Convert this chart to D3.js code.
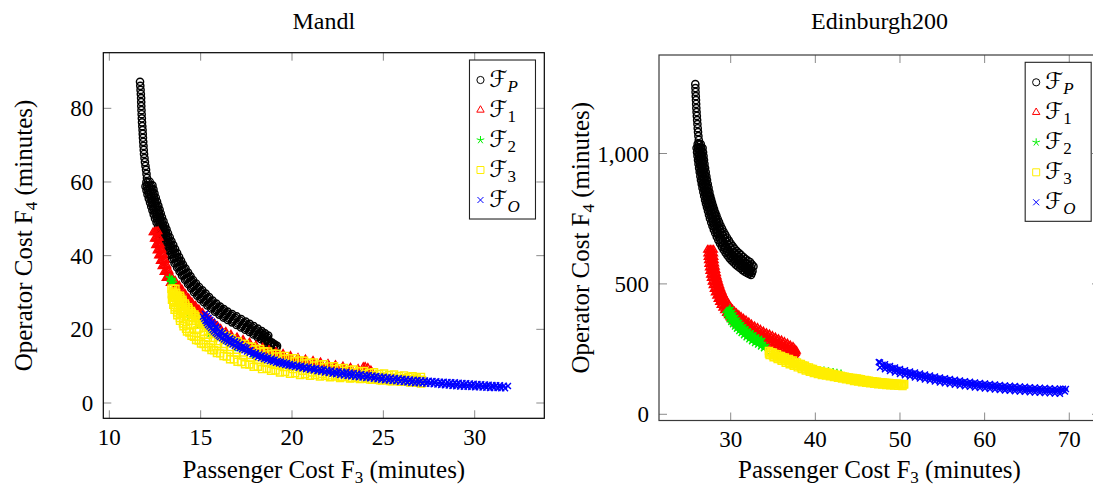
<!DOCTYPE html>
<html>
<head>
<meta charset="utf-8">
<script src="https://cdn.jsdelivr.net/npm/d3@7"></script>
<style>
body { margin: 0; background: #fff; }
text { font-family: "Liberation Serif", "Times New Roman", serif; fill: #000; }
</style>
</head>
<body>
<svg id="chart" width="1093" height="485"></svg>
<script>
// ---- Mandl ----
var mandlXTicks = [10, 15, 20, 25, 30];
var mandlYTicks = [0, 20, 40, 60, 80];

var mandlFP = [
	[11.68,87.2],[11.695,86.1],[11.71,85.0],[11.725,83.9],[11.74,82.8],[11.745,81.7],[11.75,80.6],[11.76,79.5],[11.77,78.4],[11.78,77.3],[11.79,76.2],[11.805,75.15],[11.82,74.1],[11.83,73.05],[11.84,72.0],[11.855,70.9],[11.87,69.8],[11.885,68.7],[11.90,67.6],[11.925,66.5],[11.95,65.4],[11.98,64.35],[12.01,63.3],[12.035,62.2],
	[12.06,61.1],[12.115,60.0],[12.17,58.9],[12.225,57.8],[12.28,56.7],[12.35,55.65],[12.42,54.6],[12.49,53.5],[12.56,52.4],[12.625,51.3],[12.69,50.2],[12.775,49.15],[12.86,48.1],[12.94,47.0],[13.02,45.9],[13.115,44.8],[13.21,43.7],[13.305,42.6],[13.4,41.5],[13.51,40.45],[13.62,39.4],[13.745,38.3],[13.87,37.2],[14.005,36.1],[14.14,35.0],[14.29,33.9],[14.44,32.8],[14.605,31.8],[14.77,30.8],[14.95,29.85],[15.13,28.9],[15.32,28.05],[15.51,27.2],[15.715,26.35],[15.92,25.5],[16.14,24.75],[16.36,24.0],[16.595,23.35],[16.83,22.7],[17.075,22.0],[17.32,21.3],[17.54,20.7],[17.76,20.1],[17.98,19.4],[18.2,18.7],[18.39,18.1],[18.58,17.5],[18.745,16.95],[18.91,16.4],[19.045,15.95],[19.18,15.5],
	[11.98,58.8],[12.035,57.7],[12.09,56.6],[12.16,55.5],[12.23,54.4],[12.295,53.35],[12.36,52.3],[12.43,51.2],[12.5,50.1],[12.585,49.0],[12.67,47.9],[12.75,46.85],[12.83,45.8],[12.925,44.7],[13.02,43.6],[13.115,42.5],[13.21,41.4],[13.32,40.25],[13.43,39.1],[13.57,37.95],[13.71,36.8],[13.845,35.7],[13.98,34.6],[14.145,33.45],[14.31,32.3],[14.475,31.2],[14.64,30.1],[14.815,29.15],[14.99,28.2],[15.18,27.35],[15.37,26.5],[15.58,25.65],[15.79,24.8],[16.02,24.0],[16.25,23.2],[16.485,22.55],[16.72,21.9],[16.965,21.2],[17.21,20.5],[17.44,19.9],[17.67,19.3],[17.89,18.6],[18.11,17.9],[18.305,17.3],[18.5,16.7],[18.675,16.15],[18.85,15.6],[18.985,15.15],[19.12,14.7],
	[12.03,59.95],[12.075,58.85],[12.13,57.75],[12.185,56.65],[12.255,55.58],[12.325,54.5],[12.39,53.43],[12.46,52.35],[12.53,51.25],[12.595,50.15],[12.68,49.08],[12.765,48.0],[12.845,46.93],[12.925,45.85],[13.02,44.75],[13.115,43.65],[13.21,42.55],[13.305,41.45],[13.415,40.35],[13.525,39.25],[13.66,38.13],[13.79,37.0],[13.925,35.9],[14.06,34.8],[14.22,33.68],[14.375,32.55],[14.54,31.5],[14.705,30.45],[14.88,29.5],[15.06,28.55],[15.25,27.7],[15.44,26.85],[15.65,26.0],[15.855,25.15],[16.08,24.38],[16.305,23.6],[16.54,22.95],[16.775,22.3],[17.02,21.6],[17.265,20.9],[17.49,20.3],[17.715,19.7],[17.935,19.0],[18.155,18.3],[18.35,17.7],[18.54,17.1],[18.71,16.55],[18.88,16.0],[19.015,15.55],[19.15,15.1],
	[12.36,59.1],[12.415,58.0],[12.47,56.9],[12.54,55.8],[12.61,54.7],[12.68,53.6],[12.75,52.5],[12.815,51.45],[12.88,50.4],[12.965,49.3],[13.05,48.2],[13.13,47.15],[13.21,46.1],[13.305,45.0],[13.4,43.9],[13.5,42.85],[13.6,41.8],[13.71,40.7],[13.82,39.6],[13.925,38.6],[14.03,37.6],[14.17,36.5],[14.31,35.4],[14.445,34.4],[14.58,33.4],[14.745,32.45],[14.91,31.5],[15.09,30.6],[15.27,29.7],[15.46,28.75],[15.65,27.8],[15.855,27.0],[16.06,26.2],[16.265,25.5],[16.47,24.8],[16.72,24.15],[16.97,23.5],[17.215,22.8],[17.46,22.1],[17.68,21.5],[17.9,20.9],[18.12,20.2],[18.34,19.5],[18.52,18.9],[18.7,18.3],
	[12.21,60.08],[12.265,59.0],[12.32,57.9],[12.375,56.8],[12.445,55.73],[12.515,54.65],[12.585,53.55],[12.655,52.45],[12.72,51.38],[12.785,50.3],[12.87,49.23],[12.955,48.15],[13.035,47.08],[13.115,46.0],[13.21,44.9],[13.305,43.8],[13.4,42.73],[13.5,41.65],[13.61,40.58],[13.72,39.5],[13.835,38.45],[13.95,37.4],[14.09,36.3],[14.225,35.2],[14.37,34.15],[14.51,33.1],[14.675,32.13],[14.84,31.15],[15.02,30.23],[15.2,29.3],[15.39,28.4],[15.58,27.5],[15.785,26.68],[15.99,25.85],[16.2,25.13],[16.415,24.4],[16.66,23.75],[16.9,23.1],[17.145,22.4],[17.39,21.7],[17.61,21.1],[17.83,20.5],[18.05,19.8],[18.27,19.1],[18.455,18.5],[18.64,17.9]
];

var mandlF1 = [
	[12.53,46.4],[12.6,44.65],[12.67,42.9],[12.75,41.55],[12.83,40.2],[12.925,38.7],[13.02,37.2],[13.13,35.7],[13.24,34.2],[13.47,32.85],[13.7,31.5],[13.875,30.25],[14.05,29.0],[14.235,27.95],[14.42,26.9],[14.61,25.95],[14.8,25.0],[15.0,24.05],[15.2,23.1],[15.425,22.15],[15.65,21.2],[15.825,20.35],[16.0,19.5],[16.305,18.7],[16.61,17.9],[16.935,17.15],[17.26,16.4],[17.615,15.65],[17.97,14.9],[18.33,14.3],[18.69,13.7],[19.07,13.15],[19.45,12.6],[19.86,12.05],[20.27,11.5],[20.68,11.1],[21.09,10.7],[21.5,10.3],[21.91,9.9],[22.325,9.55],[22.74,9.2],[23.15,8.9],[23.56,8.6],[23.97,8.35],[24.38,8.1],
	[12.67,46.6],[12.735,44.8],[12.8,43.0],[12.885,41.65],[12.97,40.3],[13.065,38.8],[13.16,37.3],[13.27,35.9],[13.38,34.5],[13.605,33.15],[13.83,31.8],[13.995,30.65],[14.16,29.5],[14.34,28.4],[14.52,27.3],[14.71,26.35],[14.9,25.4],[15.1,24.45],[15.3,23.5],[15.525,22.55],[15.75,21.6],[15.92,20.85],[16.09,20.1],[16.375,19.3],[16.66,18.5],[16.99,17.8],[17.32,17.1],[17.675,16.35],[18.03,15.6],[18.385,15.0],[18.74,14.4],[19.125,13.85],[19.51,13.3],[19.92,12.75],[20.33,12.2],[20.74,11.8],[21.15,11.4],[21.56,11.0],[21.97,10.6],[22.38,10.25],[22.79,9.9],[23.205,9.55],[23.62,9.2],[23.97,9.0],[24.32,8.8],
	[12.6,46.5],[12.67,44.73],[12.735,42.95],[12.82,41.6],[12.9,40.25],[12.995,38.75],[13.09,37.25],[13.2,35.8],[13.31,34.35],[13.54,33.0],[13.765,31.65],[13.935,30.45],[14.105,29.25],[14.29,28.18],[14.47,27.1],[14.66,26.15],[14.85,25.2],[15.05,24.25],[15.25,23.3],[15.475,22.35],[15.7,21.4],[15.87,20.6],[16.045,19.8],[16.34,19.0],[16.635,18.2],[16.96,17.48],[17.29,16.75],[17.645,16.0],[18.0,15.25],[18.36,14.65],[18.715,14.05],[19.1,13.5],[19.48,12.95],[19.89,12.4],[20.3,11.85],[20.71,11.45],[21.12,11.05],[21.53,10.65],[21.94,10.25],[22.35,9.9],[22.765,9.55],[23.18,9.23],[23.59,8.9],[23.97,8.68],[24.35,8.45],
	[12.39,46.3],[12.46,44.55],[12.53,42.8],[12.61,41.4],[12.69,40.0],[12.785,38.55],[12.88,37.1],[12.99,35.5],[13.1,33.9],[13.33,32.55],[13.56,31.2],[13.755,29.9],[13.95,28.6],[14.125,27.55],[14.3,26.5],[14.495,25.55],[14.69,24.6],[14.895,23.65],[15.1,22.7],[15.325,21.75],[15.55,20.8],[15.735,19.9],[15.92,19.0],[16.235,18.2],[16.55,17.4],[16.88,16.55],[17.21,15.7],[17.565,15.0],[17.92,14.3],[18.275,13.65],[18.63,13.0],[19.015,12.45],[19.4,11.9],[19.81,11.4],[20.22,10.9],[20.63,10.45],[21.04,10.0],[21.45,9.6],[21.86,9.2],[22.27,8.9],[22.68,8.6],[23.09,8.25],[23.5,7.9],[23.91,7.7],[24.32,7.5],
	[12.46,46.35],[12.53,44.6],[12.6,42.85],[12.68,41.48],[12.76,40.1],[12.855,38.63],[12.95,37.15],[13.06,35.6],[13.17,34.05],[13.4,32.7],[13.63,31.35],[13.815,30.08],[14.0,28.8],[14.18,27.75],[14.36,26.7],[14.55,25.75],[14.745,24.8],[14.95,23.85],[15.15,22.9],[15.375,21.95],[15.6,21.0],[15.78,20.13],[15.96,19.25],[16.27,18.45],[16.58,17.65],[16.91,16.85],[17.235,16.05],[17.59,15.33],[17.945,14.6],[18.3,13.98],[18.66,13.35],[19.04,12.8],[19.425,12.25],[19.835,11.73],[20.245,11.2],[20.655,10.78],[21.065,10.35],[21.475,9.95],[21.885,9.55],[22.3,9.23],[22.71,8.9],[23.12,8.58],[23.53,8.25],[23.94,8.03],[24.35,7.8],
	[23.9,9.7],[24.0,9.8],[24.15,9.5]
];

var mandlF2 = [
	[13.3,34.0],[13.42,33.6],[13.35,32.8],[13.5,32.6],[13.45,33.2],[13.7,29.5],[14.0,26.5],[14.4,23.5],[14.9,21.0],[15.5,18.8],[16.2,16.8],[17.0,15.0],[17.9,13.3],[18.9,11.8],[20.0,10.5],[21.0,9.5],[22.0,8.7],[23.0,8.0],[24.0,7.5],[25.0,7.1],[25.7,6.9],[26.2,6.8]
];

var mandlF3 = [
	[13.40,31.0],[13.415,29.5],[13.43,28.0],[13.5,26.65],[13.57,25.3],[13.72,23.8],[13.87,22.3],[14.06,20.85],[14.25,19.4],[14.5,18.25],[14.75,17.1],[15.02,16.15],[15.29,15.2],[15.59,14.4],[15.89,13.6],[16.25,12.75],[16.61,11.9],[17.02,11.2],[17.43,10.5],[17.9,9.85],[18.36,9.2],[18.85,8.75],[19.34,8.3],[19.89,7.95],[20.44,7.6],[20.985,7.4],[21.53,7.2],[22.08,7.0],[22.63,6.8],[23.175,6.65],[23.72,6.5],[24.27,6.35],[24.82,6.2],[25.365,6.0],[25.91,5.8],[26.485,5.55],[27.06,5.3],
	[13.47,30.25],[13.48,28.75],[13.53,27.33],[13.6,25.98],[13.71,24.55],[13.86,23.05],[14.03,21.58],[14.2,20.13],[14.38,19.13],[14.63,17.98],[14.89,16.93],[15.16,15.98],[15.44,15.1],[15.74,14.3],[16.07,13.48],[16.43,12.63],[16.82,11.85],[17.23,11.15],[17.67,10.48],[18.13,9.83],[18.61,9.28],[19.1,8.83],[19.62,8.43],[20.17,8.08],[20.71,7.8],[21.26,7.6],[21.81,7.4],[22.36,7.2],[22.9,7.03],[23.45,6.88],[24.0,6.73],[24.55,6.58],[25.09,6.4],[25.64,6.2],[26.2,5.98],[26.77,5.73],
	[13.62,31.0],[13.665,29.9],[13.71,28.8],[13.79,27.7],[13.87,26.6],[14.005,25.5],[14.14,24.4],[14.32,23.35],[14.5,22.3],[14.705,21.25],[14.91,20.2],[15.155,19.35],[15.4,18.5],[15.675,17.65],[15.95,16.8],[16.28,16.0],[16.61,15.2],[16.965,14.45],[17.32,13.7],[17.73,13.05],[18.14,12.4],[18.605,11.75],[19.07,11.1],[19.56,10.55],[20.05,10.0],[20.57,9.55],[21.09,9.1],[21.64,8.7],[22.19,8.3],[22.735,7.95],[23.28,7.6],[23.83,7.35],[24.38,7.1],[24.925,6.9],[25.47,6.7],[25.965,6.55],[26.46,6.4],[26.79,6.3],[27.12,6.2],
	[13.5,31.0],[13.545,29.9],[13.59,28.8],[13.67,27.7],[13.75,26.6],[13.885,25.5],[14.02,24.4],[14.2,23.35],[14.38,22.3],[14.585,21.25],[14.82,19.8],[15.155,18.55],[15.4,17.7],[15.675,16.85],[15.95,16.0],[16.28,15.2],[16.61,14.4],[16.965,13.65],[17.32,12.9],[17.73,12.25],[18.14,11.6],[18.605,10.95],[19.07,10.3],[19.56,9.75],[20.05,9.2],[20.57,8.75],[21.09,8.3],[21.64,7.9],[22.19,7.5],[22.735,7.15],[23.28,6.8],[23.83,6.55],[24.38,6.3],[24.925,6.1],[25.47,5.9],[25.965,5.75],[26.46,5.6],[26.79,5.5],[27.12,5.4],
	[13.87,29.1],[14.005,28.05],[14.14,27.0],[14.305,26.0],[14.47,25.0],[14.66,24.05],[14.85,23.1],[15.07,22.2],[15.29,21.3],[15.54,20.5],[15.79,19.7],[16.09,18.95],[16.39,18.2],[16.715,17.45],[17.04,16.7],[17.425,16.0],[17.81,15.3],[18.25,14.65],[18.69,14.0],[19.155,13.4],[19.62,12.8],[20.14,12.15],[20.66,11.5],[21.205,11.0],[21.75,10.5],[22.3,10.0],[22.85,9.5],[23.395,9.1],[23.94,8.7],[24.49,8.35],[25.04,8.0],[25.585,7.75],[26.13,7.5],[26.6,7.3],[27.06,7.1],
	[13.89,28.58],[14.02,27.53],[14.17,26.5],[14.34,25.5],[14.52,24.53],[14.71,23.58],[14.91,22.65],[15.13,21.75],[15.37,20.9],[15.67,19.8],[15.94,19.03],[16.24,18.28],[16.55,17.53],[16.88,16.78],[17.23,16.05],[17.62,15.35],[18.03,14.68],[18.47,14.03],[18.92,13.4],[19.39,12.8],[19.88,12.18],[20.4,11.53],[20.93,10.95],[21.48,10.45],[22.03,9.95],[22.58,9.45],[23.12,9.0],[23.67,8.6],[24.22,8.23],[24.77,7.88],[25.31,7.58],[25.86,7.33],[26.37,7.1],[26.83,6.9],
	[13.75,29.1],[13.885,28.05],[14.02,27.0],[14.185,26.0],[14.35,25.0],[14.54,24.05],[14.73,23.1],[14.95,22.2],[15.17,21.3],[15.42,20.5],[15.79,18.9],[16.09,18.15],[16.39,17.4],[16.715,16.65],[17.04,15.9],[17.425,15.2],[17.81,14.5],[18.25,13.85],[18.69,13.2],[19.155,12.6],[19.62,12.0],[20.14,11.35],[20.66,10.7],[21.205,10.2],[21.75,9.7],[22.3,9.2],[22.85,8.7],[23.395,8.3],[23.94,7.9],[24.49,7.55],[25.04,7.2],[25.585,6.95],[26.13,6.7],[26.6,6.5],[27.06,6.3]
];

var mandlFO = [
	[15.24,24.2],[15.43,23.1],[15.62,22.0],[15.84,20.75],[16.06,19.5],[16.335,18.55],[16.61,17.6],[16.88,16.8],[17.15,16.0],[17.51,14.9],[17.87,13.8],[18.195,13.2],[18.52,12.6],[18.875,12.05],[19.23,11.5],[19.56,11.05],[19.89,10.6],[20.3,10.25],[20.71,9.9],[21.12,9.6],[21.53,9.3],[21.94,9.0],[22.35,8.7],[22.76,8.5],[23.17,8.3],[23.585,8.0],[24.0,7.7],[24.41,7.45],[24.82,7.2],[25.23,7.0],[25.64,6.8],[26.05,6.6],[26.46,6.4],[26.87,6.25],[27.28,6.1],[27.69,5.95],[28.1,5.8],[28.51,5.7],[28.92,5.6],[29.33,5.45],[29.74,5.3],[30.15,5.15],[30.56,5.0],[30.97,4.9],[31.38,4.8],[31.82,4.6],
	[15.335,23.65],[15.525,22.55],[15.73,21.38],[15.95,20.13],[16.2,19.03],[16.47,18.08],[16.745,17.2],[17.015,16.4],[17.33,15.45],[17.69,14.35],[18.03,13.5],[18.36,12.9],[18.7,12.33],[19.05,11.78],[19.395,11.28],[19.725,10.83],[20.095,10.43],[20.505,10.08],[20.915,9.75],[21.325,9.45],[21.735,9.15],[22.145,8.85],[22.555,8.6],[22.965,8.4],[23.38,8.15],[23.79,7.85],[24.205,7.58],[24.615,7.33],[25.025,7.1],[25.435,6.9],[25.845,6.7],[26.255,6.5],[26.665,6.33],[27.075,6.18],[27.485,6.03],[27.895,5.88],[28.305,5.75],[28.715,5.65],[29.125,5.53],[29.535,5.38],[29.945,5.23],[30.355,5.08],[30.765,4.95],[31.175,4.85],[31.6,4.7],
	[15.13,23.4],[15.265,22.3],[15.4,21.2],[15.565,20.3],[15.73,19.4],[15.895,18.65],[16.06,17.9],[16.28,17.25],[16.5,16.6],[16.745,15.9],[16.99,15.2],[17.265,14.6],[17.54,14.0],[17.84,13.25],[18.14,12.5],[18.47,11.95],[18.8,11.4],[19.125,10.95],[19.45,10.5],[19.805,10.15],[20.16,9.8],[20.57,9.4],[20.98,9.0],[21.39,8.65],[21.8,8.3],[22.215,7.95],[22.63,7.6],[23.04,7.35],[23.45,7.1],[23.86,6.9],[24.27,6.7],[24.68,6.45],[25.09,6.2],[25.5,6.0],[25.91,5.8],[26.32,5.6],[26.73,5.4],[27.14,5.3],[27.55,5.2],[27.96,5.0],[28.37,4.8],[28.785,4.65],[29.2,4.5],[29.61,4.4],[30.02,4.3],[30.43,4.2],[30.84,4.1],[31.25,4.05],[31.66,4.0],
	[15.2,22.85],[15.335,21.75],[15.485,20.75],[15.65,19.85],[15.815,19.03],[15.98,18.28],[16.17,17.58],[16.39,16.93],[16.62,16.25],[16.87,15.55],[17.13,14.9],[17.4,14.3],[17.69,13.63],[17.99,12.88],[18.305,12.23],[18.635,11.68],[18.96,11.18],[19.29,10.73],[19.63,10.33],[19.98,9.98],[20.365,9.6],[20.775,9.2],[21.185,8.83],[21.595,8.48],[22.01,8.13],[22.42,7.78],[22.835,7.48],[23.245,7.23],[23.655,7.0],[24.065,6.8],[24.475,6.58],[24.885,6.33],[25.295,6.1],[25.705,5.9],[26.115,5.7],[26.525,5.5],[26.935,5.35],[27.345,5.25],[27.755,5.1],[28.165,4.9],[28.58,4.73],[28.99,4.58],[29.405,4.45],[29.815,4.35],[30.225,4.25],[30.635,4.15],[31.045,4.08],[31.455,4.03],
	[15.35,22.4],[15.595,21.4],[15.84,20.4],[16.085,19.3],[16.33,18.2],[16.605,17.45],[16.88,16.7],[17.155,15.95],[17.43,15.2],[17.715,14.35],[18.0,13.5],[18.3,12.85],[18.6,12.2],[18.95,11.65],[19.3,11.1],[19.65,10.7],[20.0,10.3],[20.4,9.9],[20.8,9.5],[21.2,9.2],[21.6,8.9],[22.0,8.6],[22.4,8.3],[22.8,8.05],[23.2,7.8],[23.65,7.55],[24.1,7.3],[24.5,7.05],[24.9,6.8],[25.35,6.6],[25.8,6.4],[26.2,6.2],[26.6,6.0],[27.0,5.85],[27.4,5.7],[27.8,5.55],[28.2,5.4],[28.6,5.25],[29.0,5.1],[29.4,4.95],[29.8,4.8],[30.2,4.7],[30.6,4.6],[31.0,4.5],[31.4,4.4]
];

// ---- Edinburgh200 ----
var edinXTicks = [30, 40, 50, 60, 70];
var edinYTicks = [0, 500, 1000];

var edinFP = [
	[25.82,1266],[25.835,1251],[25.85,1236],[25.875,1220],[25.9,1205],[25.92,1190],[25.94,1174],[25.97,1159],[26.0,1144],[26.035,1128],[26.07,1113],[26.105,1097],[26.14,1082],[26.185,1067],
	[26.23,1052],[26.28,1036],[26.33,1021],[26.38,1005],[26.43,990],[26.49,975],[26.55,960],[26.62,944],[26.69,929],[26.77,913],[26.85,898],[26.935,883],[27.02,868],[27.12,852],[27.22,837],[27.33,823],[27.44,810],[27.555,796],[27.67,783],[27.8,770],[27.93,757],[28.075,743],[28.22,730],[28.38,716],[28.54,703],[28.715,690],[28.89,678],[29.085,666],[29.28,655],[29.49,644],[29.7,634],[29.925,624],[30.15,615],[30.39,606],[30.63,597],[30.875,589],[31.12,582],[31.38,575],[31.64,569],[31.9,563],[32.16,557],[32.37,553],[32.58,549],
	[25.97,1021],[26.025,1005],[26.08,990],[26.14,975],[26.2,960],[26.27,944],[26.34,929],[26.415,913],[26.49,898],[26.58,883],[26.67,868],[26.77,852],[26.87,837],[26.975,822],[27.08,808],[27.2,794],[27.32,780],[27.435,765],[27.55,751],[27.7,736],[27.85,722],[28.01,708],[28.17,695],[28.355,681],[28.54,668],[28.745,655],[28.95,643],[29.17,631],[29.39,620],[29.625,609],[29.86,599],[30.105,590],[30.35,582],[30.605,574],[30.86,567],[31.135,560],[31.41,553],[31.67,547],[31.93,542],[32.165,538],[32.4,534],
	[26.1,1036],[26.15,1021],[26.2,1005],[26.255,990],[26.315,975],[26.375,960],[26.445,944],[26.515,929],[26.59,913],[26.67,898],[26.76,883],[26.845,868],[26.945,852],[27.045,837],[27.15,822],[27.26,809],[27.38,795],[27.495,781],[27.62,767],[27.74,754],[27.89,740],[28.035,726],[28.195,712],[28.355,699],[28.535,686],[28.715,673],[28.915,660],[29.115,649],[29.33,638],[29.545,627],[29.775,617],[30.005,607],[30.25,598],[30.49,590],[30.74,582],[30.99,575],[31.26,568],[31.525,561],[31.785,555],[32.045,550],[32.27,546],[32.49,542],
	[26.68,1021],[26.735,1005],[26.79,990],[26.845,975],[26.9,960],[26.975,944],[27.05,929],[27.125,913],[27.2,898],[27.29,883],[27.38,868],[27.48,852],[27.58,837],[27.685,824],[27.79,812],[27.91,799],[28.03,787],[28.17,774],[28.31,762],[28.465,749],[28.62,737],[28.795,724],[28.97,712],[29.16,700],[29.35,689],[29.565,677],[29.78,666],[30.0,655],[30.22,645],[30.465,635],[30.71,626],[30.965,618],[31.22,611],[31.485,603],[31.75,595],[32.015,589],[32.28,584],[32.485,575],[32.69,567],
	[26.46,1036],[26.505,1021],[26.56,1005],[26.61,990],[26.67,975],[26.725,960],[26.8,944],[26.87,929],[26.95,913],[27.025,898],[27.11,883],[27.2,868],[27.3,852],[27.4,837],[27.51,824],[27.615,811],[27.73,798],[27.85,785],[27.985,772],[28.12,760],[28.27,746],[28.42,734],[28.59,720],[28.755,708],[28.94,695],[29.12,684],[29.325,672],[29.53,661],[29.745,650],[29.96,640],[30.195,630],[30.43,621],[30.68,612],[30.925,604],[31.18,596],[31.435,589],[31.7,582],[31.96,577],[32.19,569],[32.425,562]
];

var edinF1 = [
	[27.61,630],[27.64,616],[27.67,603],[27.72,590],[27.77,576],[27.83,562],[27.89,549],[27.97,536],[28.05,522],[28.155,509],[28.26,496],[28.38,483],[28.5,471],[28.65,459],[28.8,448],[28.965,437],[29.13,427],[29.315,417],[29.5,407],[29.71,398],[29.92,390],[30.155,382],[30.39,375],[30.655,367],[30.92,360],[31.215,352],[31.51,344],[31.835,337],[32.16,331],[32.515,324],[32.87,317],[33.225,311],[33.58,306],[33.935,300],[34.29,294],[34.645,288],[35.0,283],[35.355,277],[35.71,271],[36.06,265],[36.41,260],[36.765,254],[37.12,248],[37.385,241],[37.65,235],
	[27.26,630],[27.29,616],[27.32,603],[27.365,590],[27.41,576],[27.47,562],[27.53,549],[27.615,535],[27.7,522],[27.805,508],[27.91,494],[28.04,480],[28.17,467],[28.335,454],[28.5,442],[28.675,430],[28.85,419],[29.06,408],[29.27,398],[29.495,388],[29.72,379],[29.965,370],[30.21,362],[30.475,354],[30.74,346],[31.035,338],[31.33,331],[31.655,324],[31.98,317],[32.335,310],[32.69,304],[33.045,298],[33.4,293],[33.755,287],[34.11,281],[34.465,275],[34.82,270],[35.175,264],[35.53,258],[35.885,252],[36.24,247],[36.595,241],[36.95,235],[37.215,229],[37.48,224],
	[27.435,630],[27.465,616],[27.495,603],[27.54,590],[27.59,576],[27.65,562],[27.71,549],[27.79,536],[27.875,522],[27.98,509],[28.085,495],[28.21,482],[28.335,469],[28.49,457],[28.65,445],[28.82,434],[28.99,423],[29.19,413],[29.385,403],[29.6,393],[29.82,385],[30.06,376],[30.3,369],[30.565,361],[30.83,353],[31.125,345],[31.42,338],[31.745,331],[32.07,324],[32.425,317],[32.78,311],[33.135,305],[33.49,300],[33.845,294],[34.2,288],[34.555,282],[34.91,277],[35.265,271],[35.62,265],[35.97,259],[36.325,254],[36.68,248],[37.035,242],[37.3,235],[37.565,230],
	[27.97,630],[28.0,616],[28.03,603],[28.075,590],[28.12,578],[28.19,565],[28.26,553],[28.34,540],[28.42,528],[28.52,516],[28.62,505],[28.735,493],[28.85,482],[28.99,470],[29.13,459],[29.29,448],[29.45,438],[29.625,428],[29.8,419],[30.005,410],[30.21,402],[30.45,394],[30.69,387],[30.955,380],[31.22,373],[31.515,366],[31.81,360],[32.135,352],[32.46,344],[32.815,337],[33.17,331],[33.52,324],[33.87,317],[34.225,311],[34.58,306],[34.935,300],[35.29,294],[35.645,288],[36.0,283],[36.355,277],[36.71,271],[37.035,264],[37.36,258],[37.565,250],[37.77,243],
	[27.79,630],[27.82,616],[27.85,603],[27.9,590],[27.945,577],[28.01,564],[28.075,551],[28.155,538],[28.235,525],[28.34,513],[28.44,501],[28.56,488],[28.675,477],[28.82,465],[28.965,454],[29.13,443],[29.29,433],[29.47,423],[29.65,413],[29.86,404],[30.065,396],[30.3,388],[30.54,381],[30.805,374],[31.07,367],[31.365,359],[31.66,352],[31.985,345],[32.31,338],[32.665,331],[33.02,324],[33.37,318],[33.725,312],[34.08,306],[34.435,300],[34.79,294],[35.145,289],[35.5,283],[35.855,277],[36.21,271],[36.56,266],[36.9,259],[37.24,253],[37.475,246],[37.71,239]
];

var edinF2 = [
	[29.68,396],[29.86,385],[30.04,375],[30.245,365],[30.45,356],[30.685,347],[30.92,339],[31.185,330],[31.45,321],[31.745,313],[32.04,306],[32.365,298],[32.69,291],[33.045,284],[33.4,277],[33.755,270],[34.11,264],
	[29.44,387],[29.62,376],[29.8,365],[30.005,355],[30.21,346],[30.445,337],[30.68,329],[30.95,320],[31.22,312],[31.515,304],[31.81,296],[32.135,288],[32.46,281],[32.815,274],[33.17,268],[33.52,261],[33.87,254],
	[29.56,392],[29.74,381],[29.92,370],[30.125,360],[30.33,351],[30.565,342],[30.8,334],[31.07,325],[31.335,317],[31.63,309],[31.925,301],[32.25,293],[32.575,286],[32.93,279],[33.285,273],[33.64,266],[33.99,259],
	[29.92,406],[30.095,395],[30.27,385],[30.48,375],[30.69,365],[30.925,356],[31.16,348],[31.425,339],[31.69,331],[31.985,323],[32.28,316],[32.605,308],[32.93,300],[33.285,293],[33.64,287],
	[29.8,401],[29.98,390],[30.155,380],[30.36,370],[30.57,361],[30.805,352],[31.04,344],[31.305,335],[31.57,326],[31.865,318],[32.16,311],[32.485,303],[32.81,296],[33.165,289],[33.52,282],
	[34.88,229],[35.82,218],[36.77,208],[37.83,193],[38.89,179],[39.96,172],[40.5,170],[41.02,168],[41.55,165],[42.09,162],[42.55,159],[43.03,156]
];

var edinF3 = [
	[34.52,243],[34.995,236],[35.47,230],[35.94,224],[36.41,218],[36.885,212],[37.36,206],[37.83,199],[38.3,193],[38.775,186],[39.25,180],[39.725,174],[40.2,169],[40.67,165],[41.14,162],[41.615,158],[42.09,155],[42.56,151],[43.03,147],[43.505,144],[43.98,141],[44.45,139],[44.92,137],[45.395,134],[45.87,132],[46.34,129],[46.81,127],[47.285,125],[47.76,123],[48.235,121],[48.71,120],[49.18,118],[49.65,117],[50.065,116],[50.48,116],
	[34.52,233],[34.995,225],[35.47,218],[35.94,211],[36.41,204],[36.885,198],[37.36,192],[37.83,186],[38.3,180],[38.775,174],[39.25,169],[39.725,164],[40.2,160],[40.67,157],[41.14,155],[41.615,152],[42.09,149],[42.56,146],[43.03,143],[43.505,140],[43.98,137],[44.45,134],[44.92,132],[45.395,129],[45.87,127],[46.34,125],[46.81,123],[47.285,121],[47.76,120],[48.235,118],[48.71,117],[49.18,116],[49.65,115],[50.065,114],[50.48,114],
	[34.76,238],[35.23,231],[35.7,224],[36.18,218],[36.65,211],[37.12,205],[37.6,199],[38.07,193],[38.54,187],[39.01,180],[39.49,175],[39.96,169],[40.44,165],[40.9,161],[41.38,159],[41.85,155],[42.33,152],[42.8,149],[43.27,145],[43.74,142],[44.21,139],[44.69,137],[45.16,135],[45.63,131],[46.1,130],[46.58,127],[47.05,125],[47.52,123],[47.99,122],[48.47,120],[48.94,119],[49.41,117],[49.86,116],[50.27,115],
	[34.6,227],[35.07,219],[35.55,212],[36.02,205],[36.5,198],[36.97,192],[37.45,186],[37.92,180],[38.4,174],[38.87,168],[39.35,163],[39.82,158],[40.3,154],[40.77,151],[41.25,149],[41.72,146],[42.2,143],[42.67,140],[43.15,137],[43.62,134],[44.1,131],[44.57,128],[45.05,126],[45.52,123],[46.0,121],[46.47,119],[46.95,117],[47.42,115],[47.9,114],[48.37,112],[48.85,111],[49.32,110],[49.8,109],[50.3,108]
];

var edinFO = [
	[47.5,200],[47.64,198.6],[48.23,191.9],[48.82,185.2],[49.41,179.5],[50.0,173.7],[50.59,168.9],[51.18,164.1],[51.77,160.3],[52.36,156.4],[52.95,152.6],[53.54,148.8],[54.13,145.0],[54.72,141.1],[55.31,138.3],[55.9,135.4],[56.49,132.5],[57.08,129.6],[57.675,127.1],[58.27,124.6],[58.86,122.3],[59.45,120.0],[60.04,118.1],[60.63,116.2],[61.22,114.3],[61.81,112.3],[62.4,110.8],[62.99,109.3],[63.58,108.0],[64.17,106.6],[64.76,105.3],[65.35,103.9],[65.94,102.8],[66.53,101.6],[67.12,100.7],[67.71,99.7],[68.3,99.0],[68.9,98.2],[69.25,97.6],[69.6,97.0],
	[47.64,179.4],[48.23,172.7],[48.82,166.0],[49.41,160.3],[50.0,154.5],[50.59,149.7],[51.18,144.9],[51.77,141.1],[52.36,137.3],[52.95,133.5],[53.54,129.6],[54.13,125.8],[54.72,121.9],[55.31,119.1],[55.9,116.2],[56.49,113.3],[57.08,110.4],[57.675,107.9],[58.27,105.4],[58.86,103.1],[59.45,100.8],[60.04,98.9],[60.63,97.0],[61.22,95.1],[61.81,93.2],[62.4,91.7],[62.99,90.1],[63.58,88.8],[64.17,87.4],[64.76,86.1],[65.35,84.7],[65.94,83.6],[66.53,82.4],[67.12,81.5],[67.71,80.5],[68.3,79.8],[68.9,79.0],
	[48.23,182.1],[48.82,176.0],[49.41,169.9],[50.0,164.5],[50.59,159.1],[51.18,154.9],[51.77,150.7],[52.36,146.9],[52.95,143.0],[53.54,139.2],[54.13,135.4],[54.72,132.0],[55.32,128.5],[55.91,125.6],[56.5,122.7],[57.09,120.0],[57.68,117.3],[58.27,115.0],[58.86,112.7],[59.45,110.6],[60.04,108.5],[60.63,106.6],[61.22,104.7],[61.81,103.0],[62.4,101.2],[62.99,99.7],[63.58,98.2],[64.17,96.9],[64.76,95.5],[65.36,94.4],[65.95,93.2],[66.54,92.1],[67.13,90.9],[67.72,90.1],[68.31,89.3],[68.9,88.6],[69.49,87.8],
	[47.94,190],[48.53,183],[49.12,177],[49.71,171],[50.3,165],[50.89,160],[51.48,156],[52.07,152],[52.66,148],[53.25,144],[53.84,141],[54.43,137],[55.02,134],[55.61,131],[56.2,128],[56.79,125],[57.38,122.5],[57.97,120],[58.56,118],[59.16,115.5],[59.75,113.5],[60.34,111.5],[60.93,109.5],[61.52,107.5],[62.11,105.5],[62.7,104],[63.29,102.5],[63.88,101],[64.47,99.7],[65.06,98.4],[65.65,97.2],[66.24,96.1],[66.83,95.1],[67.42,94.2],[68.01,93.3],[68.6,92.6],[69.2,91.8]
];

var legendSubs = ["P", "1", "2", "3", "O"];

var seriesStyles = [
	{ color: "#000000", mark: "circle" },
	{ color: "#ff0000", mark: "triangle" },
	{ color: "#00f000", mark: "star" },
	{ color: "#ffee00", mark: "square" },
	{ color: "#0000ff", mark: "x" }
];

function starPath(r) {
	var p = "";
	for (var k = 0; k < 5; k++) {
		var a = -Math.PI / 2 + k * 2 * Math.PI / 5;
		p += "M0,0L" + (r * Math.cos(a)).toFixed(2) + "," + (r * Math.sin(a)).toFixed(2);
	}
	return p;
}

var markPaths = {
	circle: d3.symbol(d3.symbolCircle, Math.PI * 3.6 * 3.6)(),
	triangle: "M0,-4.3L3.7,2.15L-3.7,2.15Z",
	star: starPath(4),
	square: "M-3.5,-3.5H3.5V3.5H-3.5Z",
	x: "M-3,-3L3,3M-3,3L3,-3"
};

var panels = [
	{
		title: "Mandl",
		left: 103.3, top: 52.7, width: 441, height: 365.6,
		xDomain: [9.67, 33.81], yDomain: [-4.15, 95.1],
		xTicks: mandlXTicks, yTicks: mandlYTicks,
		series: [mandlFP, mandlF1, mandlF2, mandlF3, mandlFO],
		frame: "#000", ylabelX: 32
	},
	{
		title: "Edinburgh200",
		left: 659, top: 55, width: 441, height: 365.5,
		xDomain: [21.53, 73.63], yDomain: [-23.8, 1377.7],
		xTicks: edinXTicks, yTicks: edinYTicks,
		series: [edinFP, edinF1, edinF2, edinF3, edinFO],
		frame: "#3a3a3a", ylabelX: 589
	}
];

var svg = d3.select("#chart");
var tickFmt = d3.format(",");

panels.forEach(function(p) {
	var right = p.left + p.width,
		bottom = p.top + p.height;

	var xScale = d3.scaleLinear().domain(p.xDomain).range([p.left, right]);
	var yScale = d3.scaleLinear().domain(p.yDomain).range([bottom, p.top]);

	var g = svg.append("g");

	// scatter marks (heavier stroke so the dense clouds read as solid bands)
	p.series.forEach(function(data, i) {
		var st = seriesStyles[i];
		g.append("g")
			.selectAll("path")
			.data(data)
			.join("path")
			.attr("d", markPaths[st.mark])
			.attr("transform", function(d) { return "translate(" + xScale(d[0]) + "," + yScale(d[1]) + ")"; })
			.attr("fill", "none")
			.attr("stroke", st.color)
			.attr("stroke-width", 1.45);
	});

	// ticks, mirrored on all four sides and pointing inwards
	var ticks = g.append("g").attr("stroke", "#8a8a8a").attr("stroke-width", 1);
	p.xTicks.forEach(function(t) {
		var x = xScale(t);
		ticks.append("line").attr("x1", x).attr("x2", x).attr("y1", bottom).attr("y2", bottom - 8);
		ticks.append("line").attr("x1", x).attr("x2", x).attr("y1", p.top).attr("y2", p.top + 8);
	});
	p.yTicks.forEach(function(t) {
		var y = yScale(t);
		ticks.append("line").attr("x1", p.left).attr("x2", p.left + 8).attr("y1", y).attr("y2", y);
		ticks.append("line").attr("x1", right).attr("x2", right - 8).attr("y1", y).attr("y2", y);
	});

	g.append("rect")
		.attr("x", p.left).attr("y", p.top)
		.attr("width", p.width).attr("height", p.height)
		.attr("fill", "none")
		.attr("stroke", p.frame)
		.attr("stroke-width", 1.2);

	// tick labels
	g.selectAll(".xtl")
		.data(p.xTicks)
		.join("text")
		.attr("x", function(d) { return xScale(d); })
		.attr("y", bottom + 26.5)
		.attr("text-anchor", "middle")
		.style("font-size", "23px")
		.text(tickFmt);

	g.selectAll(".ytl")
		.data(p.yTicks)
		.join("text")
		.attr("x", p.left - 10)
		.attr("y", function(d) { return yScale(d) + 8; })
		.attr("text-anchor", "end")
		.style("font-size", "23px")
		.text(tickFmt);

	// title
	g.append("text")
		.attr("x", (p.left + right) / 2)
		.attr("y", 29)
		.attr("text-anchor", "middle")
		.style("font-size", "24px")
		.text(p.title);

	// x label
	var xl = g.append("text")
		.attr("x", (p.left + right) / 2)
		.attr("y", 477.5)
		.attr("text-anchor", "middle")
		.style("font-size", "25px");
	xl.append("tspan").text("Passenger Cost F");
	xl.append("tspan").attr("dy", 5).style("font-size", "17px").text("3");
	xl.append("tspan").attr("dy", -5).text(" (minutes)");

	// y label
	var yl = g.append("text")
		.attr("transform", "translate(" + p.ylabelX + "," + (p.top + p.height / 2) + ") rotate(-90)")
		.attr("text-anchor", "middle")
		.style("font-size", "25px");
	yl.append("tspan").text("Operator Cost F");
	yl.append("tspan").attr("dy", 5).style("font-size", "17px").text("4");
	yl.append("tspan").attr("dy", -5).text(" (minutes)");

	// legend, anchored north east at 2% inset
	var lw = 66, lh = 159;
	var lx = right - 0.02 * p.width - lw,
		ly = p.top + 0.02 * p.height;
	var leg = g.append("g");
	leg.append("rect")
		.attr("x", lx).attr("y", ly)
		.attr("width", lw).attr("height", lh)
		.attr("fill", "#fff")
		.attr("stroke", "#222")
		.attr("stroke-width", 1.1);

	legendSubs.forEach(function(s, i) {
		var cy = ly + 20 + i * 30;
		var st = seriesStyles[i];
		leg.append("path")
			.attr("d", markPaths[st.mark])
			.attr("transform", "translate(" + (lx + 11) + "," + cy + ")")
			.attr("fill", "none")
			.attr("stroke", st.color)
			.attr("stroke-width", 1);
		var t = leg.append("text")
			.attr("x", lx + 20)
			.attr("y", cy + 7);
		t.append("tspan")
			.style("font-family", "'DejaVu Serif', 'DejaVu Sans', serif")
			.style("font-style", "italic")
			.style("font-size", "23px")
			.text("\u2131");
		t.append("tspan")
			.attr("dy", 5)
			.style("font-size", "17px")
			.style("font-style", (s === "P" || s === "O") ? "italic" : "normal")
			.text(s);
	});
});
</script>
</body>
</html>
